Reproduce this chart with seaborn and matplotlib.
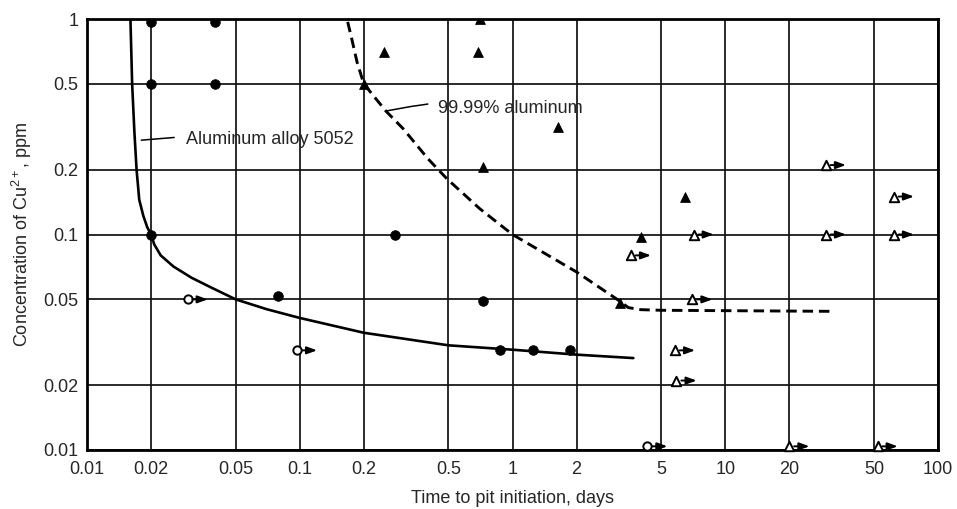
import matplotlib
matplotlib.use("Agg")
import matplotlib.pyplot as plt
from matplotlib import transforms as mtransforms
from matplotlib.ticker import FixedLocator, FixedFormatter, NullLocator
import seaborn as sns

# Tick positions and labels
x_ticks = [0.01, 0.02, 0.05, 0.1, 0.2, 0.5, 1, 2, 5, 10, 20, 50, 100]
x_tick_labels = ["0.01", "0.02", "0.05", "0.1", "0.2", "0.5", "1", "2", "5", "10", "20", "50", "100"]
y_ticks = [0.01, 0.02, 0.05, 0.1, 0.2, 0.5, 1]
y_tick_labels = ["0.01", "0.02", "0.05", "0.1", "0.2", "0.5", "1"]

# Aluminum alloy 5052: pitted (filled circles) and not pitted (open circles)
alloy_pitted_x = [0.02, 0.04, 0.02, 0.04, 0.02, 0.28, 0.079, 0.73, 0.87, 1.25, 1.87]
alloy_pitted_y = [0.97, 0.97, 0.5, 0.5, 0.1, 0.1, 0.052, 0.049, 0.029, 0.029, 0.029]
alloy_open_x = [0.0297, 0.097, 4.3]
alloy_open_y = [0.05, 0.029, 0.0104]

# 99.99% aluminum: pitted (filled triangles) and not pitted (open triangles)
pure_pitted_x = [0.2, 0.25, 0.69, 0.70, 1.64, 0.73, 6.5, 4.0, 3.2]
pure_pitted_y = [0.5, 0.70, 0.70, 1.0, 0.315, 0.205, 0.149, 0.097, 0.048]
pure_open_x = [3.6, 7.1, 7.0, 5.8, 5.9, 29.7, 29.7, 62, 62, 20, 52]
pure_open_y = [0.08, 0.1, 0.05, 0.029, 0.021, 0.21, 0.1, 0.15, 0.1, 0.0104, 0.0104]

# Boundary curves
alloy_curve_x = [0.0160, 0.0163, 0.0167, 0.0171, 0.0176, 0.0184, 0.0192, 0.020, 0.0207,
                 0.0222, 0.0255, 0.031, 0.038, 0.05, 0.07, 0.1, 0.2, 0.5, 1.0, 2.0, 3.7]
alloy_curve_y = [1.0, 0.5, 0.3, 0.2, 0.145, 0.122, 0.108, 0.1, 0.09,
                 0.08, 0.071, 0.063, 0.057, 0.05, 0.045, 0.041, 0.035, 0.0306, 0.0292,
                 0.0277, 0.0267]
pure_curve_x = [0.168, 0.176, 0.186, 0.2, 0.254, 0.306, 0.40, 0.49, 0.7, 1.0, 2.0, 3.2,
                3.5, 4.0, 5.0, 32]
pure_curve_y = [0.97, 0.8, 0.63, 0.5, 0.374, 0.31, 0.225, 0.182, 0.132, 0.1, 0.067, 0.049,
                0.0458, 0.0448, 0.0445, 0.0440]

sns.set_style("white")
plt.rcParams["font.family"] = ["Liberation Sans", "DejaVu Sans"]
plt.rcParams["mathtext.fontset"] = "custom"
plt.rcParams["mathtext.rm"] = "Liberation Sans"
plt.rcParams["mathtext.it"] = "Liberation Sans:italic"

fig = plt.figure(figsize=(9.57, 5.09), dpi=100)
ax = fig.add_axes([87 / 957, 1 - 450 / 509, 851 / 957, 431 / 509])
ax.set_xscale("log")
ax.set_yscale("log")
ax.set_xlim(0.01, 100)
ax.set_ylim(0.01, 1)

ax.xaxis.set_major_locator(FixedLocator(x_ticks))
ax.xaxis.set_major_formatter(FixedFormatter(x_tick_labels))
ax.yaxis.set_major_locator(FixedLocator(y_ticks))
ax.yaxis.set_major_formatter(FixedFormatter(y_tick_labels))
ax.xaxis.set_minor_locator(NullLocator())
ax.yaxis.set_minor_locator(NullLocator())
ax.grid(True, which="major", color="#111111", lw=1.25)
ax.set_axisbelow(True)
ax.tick_params(axis="both", which="major", labelsize=13, length=3, width=1,
               color="black", direction="out")
ax.tick_params(axis="x", pad=5)
ax.tick_params(axis="y", pad=3)
for sp in ax.spines.values():
    sp.set_linewidth(2.0)
    sp.set_color("black")

# Curves
sns.lineplot(x=alloy_curve_x, y=alloy_curve_y, ax=ax, sort=False, estimator=None,
             color="black", lw=1.9, zorder=3)
sns.lineplot(x=pure_curve_x, y=pure_curve_y, ax=ax, sort=False, estimator=None,
             color="black", lw=2.1, zorder=3)
ax.lines[-1].set_linestyle((0, (3.6, 2.0)))

# Markers
sns.scatterplot(x=alloy_pitted_x, y=alloy_pitted_y, ax=ax, marker="o", s=48,
                color="black", edgecolor="black", zorder=5)
sns.scatterplot(x=pure_pitted_x, y=pure_pitted_y, ax=ax, marker="^", s=50,
                color="black", edgecolor="black", zorder=5)
sns.scatterplot(x=alloy_open_x, y=alloy_open_y, ax=ax, marker="o", s=36,
                color="white", edgecolor="black", linewidth=1.4, zorder=6, clip_on=False)
sns.scatterplot(x=pure_open_x, y=pure_open_y, ax=ax, marker="^", s=46,
                color="white", edgecolor="black", linewidth=1.4, zorder=6, clip_on=False)

# Arrows marking tests that had not pitted yet
tail_tr = ax.transData + mtransforms.ScaledTranslation(3.5 / 72, 0, fig.dpi_scale_trans)
head_tr = ax.transData + mtransforms.ScaledTranslation(14.5 / 72, 0, fig.dpi_scale_trans)
for xs, ys in [(alloy_open_x, alloy_open_y), (pure_open_x, pure_open_y)]:
    for x, y in zip(xs, ys):
        ax.annotate("", xy=(x, y), xycoords=head_tr, xytext=(x, y), textcoords=tail_tr,
                    arrowprops=dict(arrowstyle="-|>,head_length=0.6,head_width=0.22",
                                    color="black", lw=1.4, shrinkA=0, shrinkB=0),
                    annotation_clip=False, zorder=6)

# Curve labels with leader lines
ax.plot([0.0180, 0.0257], [0.274, 0.282], color="black", lw=1.1, zorder=4)
ax.text(0.0291, 0.277, "Aluminum alloy 5052", fontsize=13, va="center", ha="left")
ax.plot([0.254, 0.33, 0.40], [0.374, 0.392, 0.403], color="black", lw=1.1, zorder=4)
ax.text(0.448, 0.385, "99.99% aluminum", fontsize=13, va="center", ha="left")

ax.set_xlabel("Time to pit initiation, days", fontsize=13)
ax.set_ylabel(r"Concentration of Cu$\mathregular{^{2+}}$, ppm", fontsize=13)
ax.xaxis.set_label_coords(0.5, -0.093)
ax.yaxis.set_label_coords(-0.062, 0.5)

fig.savefig("out.png", dpi=100)
